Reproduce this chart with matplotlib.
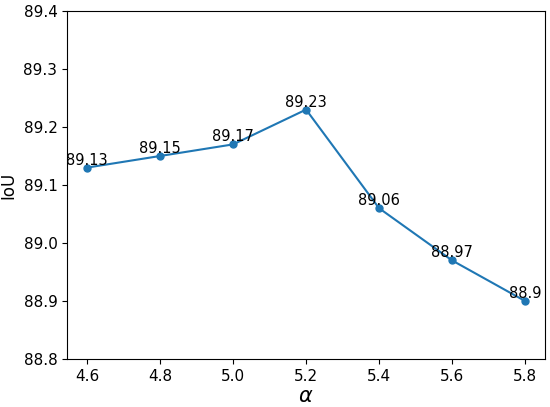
import matplotlib
matplotlib.use("Agg")
import matplotlib.pyplot as plt

alpha = [4.6, 4.8, 5.0, 5.2, 5.4, 5.6, 5.8]
iou = [89.13, 89.15, 89.17, 89.23, 89.06, 88.97, 88.90]
labels = ["89.13", "89.15", "89.17", "89.23", "89.06", "88.97", "88.9"]

fig = plt.figure(figsize=(5.5, 4.07), dpi=100)
ax = fig.add_axes([0.122, 0.118, 0.869, 0.855])

ax.plot(alpha, iou, marker="o", color="#1f77b4", markersize=5)
for x, y, t in zip(alpha, iou, labels):
    ax.text(x, y, t, ha="center", va="bottom", fontsize=10.5)

ax.set_ylim(88.8, 89.4)
ax.set_xlim(4.545, 5.855)
ax.set_yticks([88.8, 88.9, 89.0, 89.1, 89.2, 89.3, 89.4])
ax.tick_params(labelsize=11)
ax.set_xlabel(r"$\alpha$", fontsize=15, labelpad=2)
ax.set_ylabel("IoU", fontsize=12, labelpad=4)

fig.savefig("out.png")
